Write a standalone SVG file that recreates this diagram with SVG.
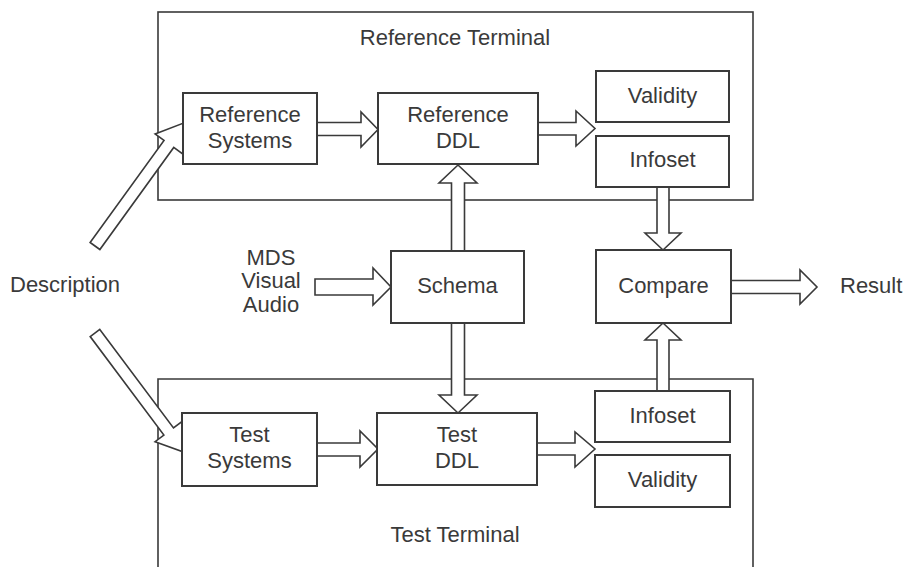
<svg xmlns="http://www.w3.org/2000/svg" width="906" height="567" viewBox="0 0 906 567">
  <style>
    .frame { fill: none; stroke: #3a3a3a; stroke-width: 1.6; }
    .box { fill: #ffffff; stroke: #3a3a3a; stroke-width: 2; }
    .arrow { fill: #ffffff; stroke: #3a3a3a; stroke-width: 1.6; stroke-linejoin: miter; }
    text { font-family: "Liberation Sans", Arial, sans-serif; font-size: 22px; fill: #3a3a3a; text-anchor: middle; }
    .plain { text-anchor: start; }
  </style>

  <!-- terminal frames -->
  <g id="reference-terminal">
    <rect class="frame" x="158" y="12" width="595" height="188"/>
    <text x="455" y="45">Reference Terminal</text>
  </g>
  <g id="test-terminal">
    <path class="frame" d="M158,568 V379 H753 V568"/>
    <text x="455" y="542">Test Terminal</text>
  </g>

  <!-- connectors (block arrows) -->
  <g id="connectors">
    <!-- Description to reference systems -->
    <polygon class="arrow" transform="translate(95,246) rotate(-54.1)" points="0,-6 126,-6 126,-17 152,0 126,17 126,6 0,6"/>
    <!-- Description to test systems -->
    <polygon class="arrow" transform="translate(95,333) rotate(53.2)" points="0,-6 123,-6 123,-17 149,0 123,17 123,6 0,6"/>
    <!-- Reference Systems to Reference DDL -->
    <polygon class="arrow" points="317,122.5 361,122.5 361,112 378,129.5 361,147 361,135.5 317,135.5"/>
    <!-- Reference DDL to Validity/Infoset -->
    <polygon class="arrow" points="538,122.5 576,122.5 576,111 595,128.5 576,146 576,135 538,135"/>
    <!-- Schema up to Reference DDL -->
    <polygon class="arrow" points="451.5,251 451.5,183 439,183 458,165 477,183 464.5,183 464.5,251"/>
    <!-- Schema down to Test DDL -->
    <polygon class="arrow" points="451.5,323 451.5,395 439,395 458,413 477,395 464.5,395 464.5,323"/>
    <!-- MDS / Visual / Audio into Schema -->
    <polygon class="arrow" points="315,279 373,279 373,268 391,287 373,305 373,295 315,295"/>
    <!-- Test Systems to Test DDL -->
    <polygon class="arrow" points="317,443 360,443 360,431 378,449 360,467 360,456 317,456"/>
    <!-- Test DDL to Infoset/Validity -->
    <polygon class="arrow" points="537,443 575,443 575,432 595,449 575,467 575,455 537,455"/>
    <!-- Reference Infoset down to Compare -->
    <polygon class="arrow" points="657,187 657,233 645,233 663,250 681,233 669,233 669,187"/>
    <!-- Test Infoset up to Compare -->
    <polygon class="arrow" points="657,391 657,340 645,340 663,323 681,340 669,340 669,391"/>
    <!-- Compare to Result -->
    <polygon class="arrow" points="731,280.5 800,280.5 800,270 817,287 800,304 800,293.5 731,293.5"/>
  </g>

  <!-- reference side -->
  <g id="reference-systems">
    <rect class="box" x="183" y="93" width="134" height="71"/>
    <text x="250" y="122">Reference</text>
    <text x="250" y="148">Systems</text>
  </g>
  <g id="reference-ddl">
    <rect class="box" x="378" y="93" width="160" height="71"/>
    <text x="458" y="122">Reference</text>
    <text x="458" y="148">DDL</text>
  </g>
  <g id="reference-validity">
    <rect class="box" x="596" y="71" width="133" height="51"/>
    <text x="662.5" y="103">Validity</text>
  </g>
  <g id="reference-infoset">
    <rect class="box" x="596" y="136" width="133" height="51"/>
    <text x="662.5" y="167">Infoset</text>
  </g>

  <!-- middle row -->
  <g id="description">
    <text class="plain" x="10" y="292">Description</text>
  </g>
  <g id="inputs">
    <text x="271" y="265">MDS</text>
    <text x="271" y="288">Visual</text>
    <text x="271" y="312">Audio</text>
  </g>
  <g id="schema">
    <rect class="box" x="391" y="251" width="133" height="72"/>
    <text x="457.5" y="293">Schema</text>
  </g>
  <g id="compare">
    <rect class="box" x="596" y="250" width="135" height="73"/>
    <text x="663.5" y="293">Compare</text>
  </g>
  <g id="result">
    <text class="plain" x="840" y="293">Result</text>
  </g>

  <!-- test side -->
  <g id="test-systems">
    <rect class="box" x="182" y="413" width="135" height="73"/>
    <text x="249.5" y="442">Test</text>
    <text x="249.5" y="468">Systems</text>
  </g>
  <g id="test-ddl">
    <rect class="box" x="377" y="413" width="160" height="72"/>
    <text x="457" y="442">Test</text>
    <text x="457" y="468">DDL</text>
  </g>
  <g id="test-infoset">
    <rect class="box" x="595" y="391" width="135" height="51"/>
    <text x="662.5" y="423">Infoset</text>
  </g>
  <g id="test-validity">
    <rect class="box" x="595" y="455" width="135" height="52"/>
    <text x="662.5" y="487">Validity</text>
  </g>
</svg>
